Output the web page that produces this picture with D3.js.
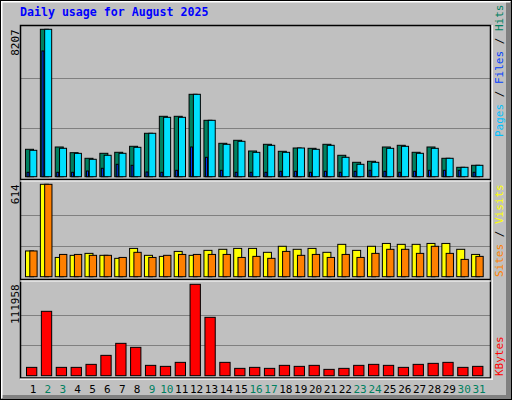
<!DOCTYPE html>
<html><head><meta charset="utf-8">
<script src="https://cdn.jsdelivr.net/npm/d3@7"></script>
<style>body{margin:0;background:#fff}svg{display:block}</style>
</head><body><svg id="c" width="512" height="400"></svg>
<script>
const days = d3.range(1, 32);
const weekend = [2,3,9,10,16,17,23,24,30,31];
const hits  = [1526,8207,1654,1337,1025,1303,1359,1693,2417,3363,3363,4588,3140,1860,2027,1431,1804,1414,1598,1581,1804,1192,802,858,1654,1748,1359,1654,1025,523,635];
const files = [1470,8207,1582,1300,969,1192,1303,1637,2417,3307,3307,4588,3140,1804,1971,1357,1748,1358,1598,1525,1748,1081,691,802,1580,1692,1303,1580,1025,523,635];
const pages = [245,7000,245,245,317,468,690,635,262,245,356,1654,1080,356,245,245,245,300,300,245,300,245,300,356,300,245,300,356,356,356,245];
const visits = [171,614,128,142,155,142,122,188,142,135,168,142,175,182,188,188,162,202,182,188,162,215,175,202,221,215,215,221,221,182,148];
const sites  = [171,614,148,148,142,142,128,162,128,142,148,148,148,148,128,135,122,168,142,148,128,148,128,155,182,182,155,202,155,115,135];
const kbytes = [10215,78860,10215,10215,13892,24925,39634,34731,12667,11441,16344,111958,71505,16344,8989,10215,8989,12667,11441,12667,7763,8989,12667,13892,12667,10215,13892,15118,16344,10215,11441];
const maxHits = 8207, maxVisits = 614, maxKB = 111958;

const svg = d3.select('#c');
const mono = "'DejaVu Sans Mono', monospace";
// frame
svg.append('rect').attr('x',0).attr('y',0).attr('width',512).attr('height',400).attr('fill','#c0c0c0');
svg.append('rect').attr('x',506).attr('y',2).attr('width',6).attr('height',398).attr('fill','#808080');
svg.append('rect').attr('x',2).attr('y',395).attr('width',510).attr('height',5).attr('fill','#808080');
svg.append('path').attr('d','M1.5,398V1.5H510').attr('fill','none').attr('stroke','#fff').attr('stroke-width',2);
svg.append('rect').attr('x',0.5).attr('y',0.5).attr('width',511).attr('height',399).attr('fill','none').attr('stroke','#000');

svg.append('text').attr('x',20).attr('y',16).attr('fill','#0000ff').attr('font-family',mono)
  .attr('font-weight','bold').attr('font-size','11.6px').text('Daily usage for August 2025');

const L = 20, R = 491;
const x = d3.scaleLinear().domain([1,31]).range([20, 20 + 30*14.87]);

const panels = [
  {top:25, bot:176.7, max:maxHits, label:'8207'},
  {top:184.3, bot:276.7, max:maxVisits, label:'614'},
  {top:284.3, bot:375.7, max:maxKB, label:'111958'}
];
panels.forEach(p => { p.y = d3.scaleLinear().domain([0,p.max]).range([p.bot, p.top === 25 ? 29.3 : p.top]); });

// plot background/frame
svg.append('rect').attr('x',L).attr('y',25).attr('width',R-L).attr('height',353).attr('fill','#c0c0c0');
panels.forEach(p => {
  [1/3, 2/3].forEach(f => {
    const yy = Math.round(p.y(p.max*f)) + 0.5;
    svg.append('line').attr('x1',L).attr('x2',R).attr('y1',yy).attr('y2',yy).attr('stroke','#808080').attr('stroke-width',1.2);
  });
});

function bar(x0, w, v, y, fill) {
  const top = y(v), h = y(0) - top;
  svg.append('rect').attr('x',x0).attr('y',top).attr('width',w).attr('height',h)
    .attr('fill',fill).attr('stroke','#000').attr('stroke-width',1);
}
const P0 = panels[0].y, P1 = panels[1].y, P2 = panels[2].y;
days.forEach((d,i) => {
  const s = x(d);
  bar(s+5.5, 8, hits[i], P0, '#008060');
  bar(s+9.8, 7, files[i], P0, '#00e0ff');
  bar(s+7, 2, pages[i], P0, '#0040ff');
  bar(s+5.5, 8, visits[i], P1, '#ffff00');
  bar(s+9.8, 7.3, sites[i], P1, '#ff8000');
  bar(s+6.5, 10.3, kbytes[i], P2, '#ff0000');
});

// borders
svg.append('rect').attr('x',L+0.5).attr('y',25.5).attr('width',R-L-1).attr('height',352.5).attr('fill','none').attr('stroke','#000').attr('stroke-width',1.5);
[179.5, 279.5].forEach(yy => {
  svg.append('line').attr('x1',L).attr('x2',R).attr('y1',yy).attr('y2',yy).attr('stroke','#000').attr('stroke-width',1.5);
  svg.append('line').attr('x1',L).attr('x2',R).attr('y1',yy+1.5).attr('y2',yy+1.5).attr('stroke','#fff').attr('stroke-width',1.2);
});
svg.append('line').attr('x1',L).attr('x2',R+1).attr('y1',379.2).attr('y2',379.2).attr('stroke','#fff').attr('stroke-width',1.2);
svg.append('line').attr('x1',R+1.2).attr('x2',R+1.2).attr('y1',25).attr('y2',380).attr('stroke','#fff').attr('stroke-width',1.2);

// y labels
panels.forEach(p => {
  const yt = p.top === 25 ? 29.3 : p.top;
  svg.append('text').attr('transform',`translate(19,${yt}) rotate(-90)`).attr('text-anchor','end')
    .attr('font-family',mono).attr('font-size','11px').attr('fill','#000').text(p.label);
});

// x labels
svg.append('g').selectAll('text').data(days).join('text')
  .attr('x', d => x(d) + 13).attr('y', 393).attr('text-anchor','middle')
  .attr('font-family',mono).attr('font-size','11px')
  .attr('fill', d => weekend.includes(d) ? '#008060' : '#000').text(d => d);

// right legends
function legend(yBottom, parts) {
  const t = svg.append('text').attr('transform',`translate(503,${yBottom}) rotate(-90)`)
    .attr('font-family',mono).attr('font-size','11px');
  parts.forEach(([txt,col]) => t.append('tspan').attr('fill',col).text(txt));
}
legend(137, [['Pages','#00c0ff'],[' / ','#000'],['Files','#0040ff'],[' / ','#000'],['Hits','#008060']]);
legend(277, [['Sites','#ff8000'],[' / ','#000'],['Visits','#ffff00']]);
legend(376, [['KBytes','#ff0000']]);
</script></body></html>
